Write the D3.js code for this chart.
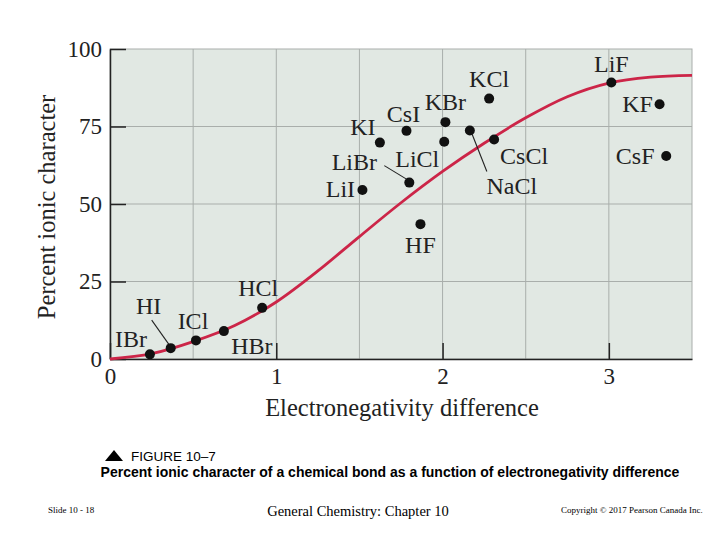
<!DOCTYPE html>
<html>
    <head>
        <meta charset="utf-8"/>
        <script src="https://cdnjs.cloudflare.com/ajax/libs/d3/7.8.5/d3.min.js"></script>
        <style>
            body { margin: 0; background: #fff; }
        </style>
    </head>
    <body>
        <script>
            // compounds: electronegativity difference vs percent ionic character
            const compounds = ["IBr", "HI", "ICl", "HBr", "HCl", "LiI", "KI", "CsI", "LiBr", "HF",
                               "LiCl", "KBr", "NaCl", "CsCl", "KCl", "LiF", "KF", "CsF"];
            const enDiff = [0.24, 0.365, 0.517, 0.685, 0.915, 1.518, 1.623, 1.783, 1.80, 1.867,
                            2.01, 2.017, 2.164, 2.31, 2.28, 3.015, 3.305, 3.345];
            const ionicPct = [1.5, 3.5, 6.0, 9.0, 16.5, 54.5, 69.8, 73.6, 56.9, 43.5,
                              70.1, 76.4, 73.7, 70.8, 84.0, 89.2, 82.2, 65.5];

            // red curve
            const curveX = [0, 0.25, 0.5, 0.75, 1.0, 1.25, 1.5, 1.75, 2.0, 2.25, 2.5, 2.75, 3.0, 3.25, 3.5];
            const curveY = [0, 1.7, 5.6, 10.8, 18.4, 28.4, 39.5, 50.4, 60.5, 69.6, 77.8, 84.6, 89.0, 90.9, 91.5];

            const xTicks = [0, 1, 2, 3];
            const yTicks = [0, 25, 50, 75, 100];
            const xGrid = [0.5, 1, 1.5, 2, 2.5, 3];
            const yGrid = [25, 50, 75];

            // label placement (pixel offsets from the dot) and leader lines
            const labelPos = {
                IBr: [-19, -7], HI: [-22, -34], ICl: [-3, -11], HBr: [28, 23], HCl: [-4, -12],
                LiI: [-22, 7], KI: [-17, -8], CsI: [-3, -9], LiBr: [-55, -13], HF: [0, 29],
                LiCl: [-27, 25], KBr: [0, -12], NaCl: [42, 63], CsCl: [30, 24], KCl: [0, -12],
                LiF: [0, -10], KF: [-22, 8], CsF: [-31, 8]
            };
            const leaders = {
                HI: [[-19, -28], [-2, -4]],
                LiBr: [[-25, -17], [-2, -3]],
                NaCl: [[2, 3], [17, 41]]
            };

            const width = 720, height = 540;
            const margin = {top: 49, right: 28, bottom: 181, left: 110};

            const svg = d3.select("body").append("svg")
                .attr("width", width)
                .attr("height", height)
                .attr("viewBox", [0, 0, width, height]);

            const x = d3.scaleLinear()
                .domain([0, 3.5])
                .range([margin.left, width - margin.right]);
            const y = d3.scaleLinear()
                .domain([0, 100])
                .range([height - margin.bottom, margin.top]);

            const serif = "'Liberation Serif', 'Times New Roman', serif";

            // plot background
            svg.append("rect")
                .attr("x", x(0)).attr("y", y(100))
                .attr("width", x(3.5) - x(0)).attr("height", y(0) - y(100))
                .attr("fill", "#e1e8e3")
                .attr("stroke", "#a9aeab")
                .attr("stroke-width", 1);

            // grid
            svg.append("g")
                .selectAll("line")
                .data(xGrid)
                .join("line")
                .attr("x1", d => x(d)).attr("x2", d => x(d))
                .attr("y1", y(0)).attr("y2", y(100))
                .attr("stroke", "#a9aeab").attr("stroke-width", 1);
            svg.append("g")
                .selectAll("line")
                .data(yGrid)
                .join("line")
                .attr("x1", x(0)).attr("x2", x(3.5))
                .attr("y1", d => y(d)).attr("y2", d => y(d))
                .attr("stroke", "#a9aeab").attr("stroke-width", 1);

            // axes
            const xAxis = g => g
                .attr("transform", `translate(0,${y(0)})`)
                .call(d3.axisBottom(x).tickValues(xTicks).tickFormat(d3.format("d"))
                    .tickSize(-16).tickSizeOuter(0).tickPadding(9))
                .call(g => g.select(".domain").attr("stroke", "#222").attr("stroke-width", 1.5))
                .call(g => g.selectAll(".tick line").attr("stroke", "#222").attr("stroke-width", 1.5))
                .call(g => g.selectAll(".tick text")
                    .attr("font-family", serif).attr("font-size", 23).attr("fill", "#222"));

            const yAxis = g => g
                .attr("transform", `translate(${x(0)},0)`)
                .call(d3.axisLeft(y).tickValues(yTicks)
                    .tickSize(-16).tickSizeOuter(0).tickPadding(8))
                .call(g => g.select(".domain").attr("stroke", "#222").attr("stroke-width", 1.5))
                .call(g => g.selectAll(".tick line").attr("stroke", "#222").attr("stroke-width", 1.5))
                .call(g => g.selectAll(".tick text")
                    .attr("font-family", serif).attr("font-size", 23).attr("fill", "#222"));

            svg.append("g").call(xAxis);
            svg.append("g").call(yAxis);

            // axis titles
            svg.append("text")
                .attr("x", (x(0) + x(3.5)) / 2 + 1)
                .attr("y", 416)
                .attr("text-anchor", "middle")
                .attr("font-family", serif).attr("font-size", 24.5).attr("fill", "#222")
                .text("Electronegativity difference");

            svg.append("text")
                .attr("transform", `translate(55,${(y(0) + y(100)) / 2 + 3}) rotate(-90)`)
                .attr("text-anchor", "middle")
                .attr("font-family", serif).attr("font-size", 24.5).attr("fill", "#222")
                .text("Percent ionic character");

            // curve
            const curveData = curveX.map((d, i) => [d, curveY[i]]);
            svg.append("path")
                .datum(curveData)
                .attr("fill", "none")
                .attr("stroke", "#cc2548")
                .attr("stroke-width", 2.8)
                .attr("d", d3.line().x(d => x(d[0])).y(d => y(d[1])).curve(d3.curveMonotoneX));

            // points
            const points = compounds.map((c, i) => ({name: c, ex: enDiff[i], pct: ionicPct[i]}));

            svg.append("g")
                .selectAll("line")
                .data(points.filter(d => leaders[d.name]))
                .join("line")
                .attr("x1", d => x(d.ex) + leaders[d.name][0][0])
                .attr("y1", d => y(d.pct) + leaders[d.name][0][1])
                .attr("x2", d => x(d.ex) + leaders[d.name][1][0])
                .attr("y2", d => y(d.pct) + leaders[d.name][1][1])
                .attr("stroke", "#222").attr("stroke-width", 1.1);

            svg.append("g")
                .selectAll("circle")
                .data(points)
                .join("circle")
                .attr("cx", d => x(d.ex))
                .attr("cy", d => y(d.pct))
                .attr("r", 5)
                .attr("fill", "#111");

            svg.append("g")
                .selectAll("text")
                .data(points)
                .join("text")
                .attr("x", d => x(d.ex) + labelPos[d.name][0])
                .attr("y", d => y(d.pct) + labelPos[d.name][1])
                .attr("text-anchor", "middle")
                .attr("font-family", serif).attr("font-size", 24).attr("fill", "#222")
                .text(d => d.name);

            // caption
            const sans = "'Liberation Sans', Arial, sans-serif";
            svg.append("path")
                .attr("d", "M105,461 L114,450 L123,461 Z")
                .attr("fill", "#000");
            svg.append("text")
                .attr("x", 131).attr("y", 461)
                .attr("font-family", sans).attr("font-size", 13.5).attr("fill", "#000")
                .text("FIGURE 10–7");
            svg.append("text")
                .attr("x", 390).attr("y", 477)
                .attr("text-anchor", "middle")
                .attr("font-family", sans).attr("font-size", 14).attr("font-weight", "bold").attr("fill", "#000")
                .text("Percent ionic character of a chemical bond as a function of electronegativity difference");

            // footer
            svg.append("text")
                .attr("x", 48).attr("y", 513)
                .attr("font-family", serif).attr("font-size", 9).attr("fill", "#000")
                .text("Slide 10 - 18");
            svg.append("text")
                .attr("x", 358).attr("y", 516)
                .attr("text-anchor", "middle")
                .attr("font-family", serif).attr("font-size", 14.5).attr("fill", "#000")
                .text("General Chemistry: Chapter 10");
            svg.append("text")
                .attr("x", 561).attr("y", 513)
                .attr("font-family", serif).attr("font-size", 9).attr("fill", "#000")
                .text("Copyright © 2017 Pearson Canada Inc.");
        </script>
    </body>
</html>
